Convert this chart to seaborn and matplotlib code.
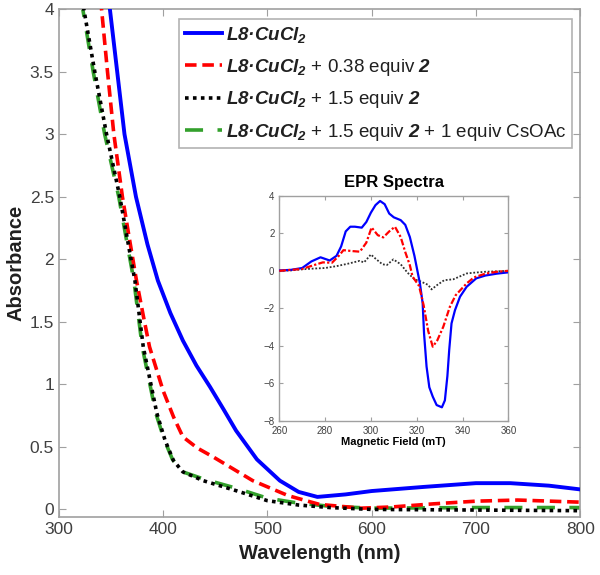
import numpy as np
import matplotlib
matplotlib.use("Agg")
import matplotlib.pyplot as plt
import seaborn as sns

# UV-vis data
wl_blue = [338, 349, 356, 363, 374, 385, 395, 407, 419, 432, 445, 458, 470, 490, 512, 530, 548, 575, 600, 650, 700, 733, 770, 800]
abs_blue = [4.6, 4.0, 3.5, 3.0, 2.5, 2.12, 1.83, 1.57, 1.35, 1.15, 0.98, 0.8, 0.63, 0.40, 0.23, 0.14, 0.10, 0.12, 0.147, 0.18, 0.21, 0.21, 0.19, 0.16]

wl_red = [333, 341, 346.7, 352.8, 361, 368, 374.5, 381, 387, 400, 410, 419, 433, 448, 466, 486, 520, 550, 590, 620, 660, 700, 740, 800]
abs_red = [4.6, 4.0, 3.5, 3.0, 2.5, 2.15, 1.83, 1.55, 1.30, 0.95, 0.74, 0.58, 0.49, 0.42, 0.33, 0.23, 0.11, 0.04, 0.01, 0.02, 0.045, 0.066, 0.075, 0.058]

wl_black = [318, 324, 334.5, 345.8, 358.5, 366, 373, 381, 394, 402, 410, 419, 438.5, 470, 500, 530, 560, 600, 700, 800]
abs_black = [4.5, 4.0, 3.5, 3.0, 2.5, 2.15, 1.83, 1.30, 0.77, 0.55, 0.39, 0.30, 0.23, 0.15, 0.07, 0.035, 0.015, 0.0, -0.005, -0.01]

wl_green = [317, 323, 333, 344, 357.5, 365, 372, 380, 393, 401, 409, 419, 440, 470, 500, 530, 560, 600, 700, 800]
abs_green = [4.5, 4.0, 3.5, 3.0, 2.5, 2.15, 1.83, 1.30, 0.77, 0.56, 0.40, 0.30, 0.24, 0.17, 0.09, 0.05, 0.025, 0.01, 0.015, 0.015]

labels = [
    r"$L8·CuCl_2$",
    r"$L8·CuCl_2$ + 0.38 equiv $2$",
    r"$L8·CuCl_2$ + 1.5 equiv $2$",
    r"$L8·CuCl_2$ + 1.5 equiv $2$ + 1 equiv CsOAc",
]

x_ticks = [300, 400, 500, 600, 700, 800]
y_ticks = [0, 0.5, 1, 1.5, 2, 2.5, 3, 3.5, 4]
y_ticklabels = ["0", "0.5", "1", "1.5", "2", "2.5", "3", "3.5", "4"]

# EPR data (inset)
field_blue = [260, 265, 270, 274, 278, 282, 285, 287, 289, 291, 293, 296, 298, 300, 302, 304, 306, 308, 310, 313, 315, 317,
              319, 321.4, 322.6, 323.2, 324.3, 325.5, 327, 328.7, 331, 332.3, 333.4, 334.2, 335.2, 336.7, 338.9, 341.8,
              346, 350, 355, 360]
epr_blue = [0.02, 0.05, 0.15, 0.5, 0.72, 0.55, 0.8, 1.3, 2.1, 2.35, 2.35, 2.3, 2.6, 3.1, 3.5, 3.72, 3.55, 3.05, 2.85, 2.7,
            2.45, 1.8, 0.8, -0.67, -1.73, -3.33, -5.1, -6.2, -6.7, -7.15, -7.27, -6.9, -5.6, -4.2, -2.8, -2.1, -1.38,
            -0.85, -0.4, -0.25, -0.15, -0.08]

field_red = [260, 270, 275, 279, 283, 286, 288, 292, 295.2, 298, 300.3, 303, 305.4, 308, 310.5, 313, 315, 317, 318.2, 321,
             323, 325, 327, 329, 331.6, 334.5, 337, 341.8, 345, 350, 355, 360]
epr_red = [0.0, 0.1, 0.3, 0.45, 0.43, 0.8, 1.1, 1.05, 1.02, 1.5, 2.31, 1.9, 1.78, 2.1, 2.35, 1.8, 1.0, 0.3, -0.31, -0.8,
           -1.82, -3.2, -4.04, -3.7, -2.98, -1.91, -1.3, -0.67, -0.35, -0.15, -0.05, 0.0]

field_black = [260, 265, 270, 275, 280, 285, 290, 295, 297, 300, 302, 305, 307, 309.8, 313, 316, 319, 322, 325, 326.5,
               329, 332, 336, 341.8, 345, 350, 360]
epr_black = [0.0, 0.02, 0.08, 0.12, 0.15, 0.25, 0.38, 0.53, 0.45, 0.87, 0.65, 0.35, 0.31, 0.61, 0.35, -0.1, -0.45, -0.58,
             -0.75, -0.99, -0.75, -0.5, -0.45, -0.14, -0.1, -0.05, 0.0]

plt.rcParams["font.family"] = ["Liberation Sans", "DejaVu Sans"]
# math parts of the legend are all bold italic
plt.rcParams["mathtext.fontset"] = "custom"
plt.rcParams["mathtext.it"] = "Liberation Sans:bold:italic"
plt.rcParams["mathtext.rm"] = "Liberation Sans:bold:italic"
plt.rcParams["mathtext.bf"] = "Liberation Sans:bold:italic"

gray = "#a0a0a0"
tick_col = "#404040"

fig = plt.figure(figsize=(6, 5.75), dpi=100)
ax = fig.add_axes([0.098, 0.101, 0.869, 0.883])

sns.lineplot(x=wl_blue, y=abs_blue, ax=ax, color="#0000ff", lw=2.8, label=labels[0], zorder=3, solid_joinstyle="round")
sns.lineplot(x=wl_red, y=abs_red, ax=ax, color="#ff0000", lw=2.6, linestyle=(0, (3.2, 1.6)), label=labels[1], zorder=3)
sns.lineplot(x=wl_green, y=abs_green, ax=ax, color="#33a02c", lw=2.6, linestyle=(0, (5, 4)), label=labels[3], zorder=2)
sns.lineplot(x=wl_black, y=abs_black, ax=ax, color="black", lw=2.6, linestyle=(0, (1, 1.2)), label=labels[2], zorder=4)

ax.set_xlim(300, 800)
ax.set_ylim(-0.06, 4)
ax.set_xticks(x_ticks)
ax.set_yticks(y_ticks)
ax.set_yticklabels(y_ticklabels)
ax.tick_params(direction="in", top=True, right=True, length=5, color=gray, labelcolor=tick_col, labelsize=12.5)
for s in ax.spines.values():
    s.set_color(gray)
    s.set_linewidth(1.2)
ax.set_xlabel("Wavelength (nm)", fontsize=14.5, fontweight="bold", color="#202020", labelpad=5)
ax.set_ylabel("Absorbance", fontsize=14.5, fontweight="bold", color="#202020", labelpad=3)

h, l = ax.get_legend_handles_labels()
order = [0, 1, 3, 2]
leg = ax.legend([h[i] for i in order], [l[i] for i in order], loc="upper right",
                bbox_to_anchor=(0.985, 0.980), fontsize=13.5, frameon=True, fancybox=False,
                edgecolor=gray, handlelength=2.0, handletextpad=0.2, borderpad=0.3,
                labelspacing=0.62, borderaxespad=0)
leg.get_frame().set_linewidth(1.2)
for t in leg.get_texts():
    t.set_color("#202020")

# inset
ins = fig.add_axes([0.4655, 0.2678, 0.3817, 0.3918])
sns.lineplot(x=field_blue, y=epr_blue, ax=ins, color="#0000ff", lw=1.6, zorder=3, solid_joinstyle="round")
sns.lineplot(x=field_red, y=epr_red, ax=ins, color="#ff0000", lw=1.6, linestyle=(0, (3, 1, 1, 1)), zorder=3)
sns.lineplot(x=field_black, y=epr_black, ax=ins, color="#303030", lw=1.3, linestyle=(0, (1, 1)), zorder=2)
ins.set_xlim(260, 360)
ins.set_ylim(-8, 4)
ins.set_xticks([260, 280, 300, 320, 340, 360])
ins.set_yticks([-8, -6, -4, -2, 0, 2, 4])
ins.tick_params(direction="in", top=True, right=True, length=3, color=gray, labelcolor=tick_col, labelsize=7)
for s in ins.spines.values():
    s.set_color(gray)
    s.set_linewidth(1.0)
ins.set_title("EPR Spectra", fontsize=12, fontweight="bold", pad=6)
ins.set_xlabel("Magnetic Field (mT)", fontsize=8, fontweight="bold", labelpad=1)

fig.savefig("out.png", dpi=100)
